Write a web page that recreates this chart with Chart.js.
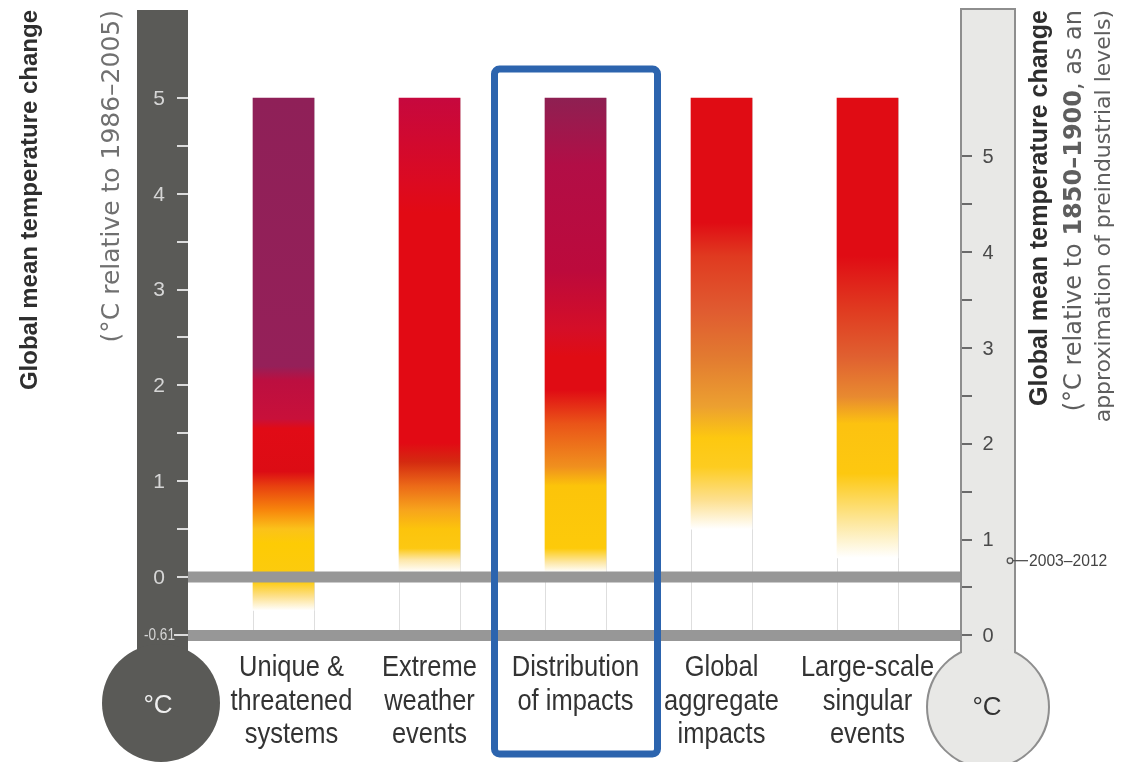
<!DOCTYPE html>
<html>
<head>
<meta charset="utf-8">
<script src="https://cdn.jsdelivr.net/npm/chart.js@4.4.1/dist/chart.umd.min.js"></script>
<style>
html,body{margin:0;padding:0;background:#ffffff;}
#wrap{width:1121px;height:762px;position:relative;}
</style>
</head>
<body>
<div id="wrap"><canvas id="c"></canvas></div>
<script>
// ---------------- data ----------------
const categories = [
  ["Unique &", "threatened", "systems"],
  ["Extreme", "weather", "events"],
  ["Distribution", "of impacts"],
  ["Global", "aggregate", "impacts"],
  ["Large-scale", "singular", "events"]
];
// temperature range covered by each bar (°C relative to 1986–2005)
const barTop = [5, 5, 5, 5, 5];
const barBottom = [-0.35, 0.05, 0.05, 0.5, 0.2];

// colour transitions along each bar: [temperature, colour]
const stopsUnique = [[5, "#8f2058"], [2.2, "#952059"], [2.05, "#bc0f40"], [1.65, "#c8103a"], [1.55, "#e10b16"], [1.1, "#dc0c14"], [0.95, "#e8400f"], [0.7, "#f7850c"], [0.5, "#fbc21a"], [0.35, "#fdcb05"], [-0.05, "#fccb10"], [-0.2, "#fde08a"], [-0.35, "#ffffff"]];
const stopsExtreme = [[5, "#c6083e"], [4.1, "#dc0a20"], [3.8, "#e20a14"], [1.4, "#e20a14"], [1.2, "#d42a10"], [0.95, "#ec6a18"], [0.7, "#f7a41c"], [0.5, "#fcc40c"], [0.3, "#fcc812"], [0.18, "#fde7a8"], [0.05, "#ffffff"]];
const stopsDistribution = [[5, "#8e2052"], [4.3, "#b20e46"], [3.2, "#bc0a3c"], [2.6, "#d40e28"], [2.3, "#e00c14"], [1.95, "#e00c14"], [1.6, "#ea5418"], [1.15, "#f0901e"], [0.95, "#fcc40a"], [0.3, "#fdca0a"], [0.15, "#fde8a8"], [0.05, "#ffffff"]];
const stopsAggregate = [[5, "#e00c14"], [3.7, "#e00c14"], [3.35, "#e03a20"], [2.8, "#e05a30"], [2.3, "#e27a30"], [1.78, "#eca030"], [1.45, "#fdc810"], [1.15, "#fdcc20"], [0.8, "#fde090"], [0.5, "#ffffff"]];
const stopsSingular = [[5, "#e00c14"], [3.35, "#e00c14"], [2.8, "#e03a20"], [2.3, "#e06030"], [1.88, "#e88a30"], [1.6, "#fcc210"], [1.08, "#fdc810"], [0.56, "#fde8a0"], [0.2, "#ffffff"]];
const colourStops = [stopsUnique, stopsExtreme, stopsDistribution, stopsAggregate, stopsSingular];

// axes
const leftMajorTicks = [0, 1, 2, 3, 4, 5];
const leftMinorTicks = [0.5, 1.5, 2.5, 3.5, 4.5];
const preindustrialOffset = -0.61;          // 1850–1900 level on the 1986–2005 scale
const rightMajorTicks = [0, 1, 2, 3, 4, 5];  // °C relative to 1850–1900
const rightMinorTicks = [0.5, 1.5, 2.5, 3.5, 4.5];
const observedWarming = 0.78;                // 2003–2012, relative to 1850–1900
const observedLabel = "2003–2012";
const highlightedCategory = 2;

const leftTitle = "Global mean temperature change";
const leftSubtitle = "(°C relative to 1986–2005)";
const rightTitle = "Global mean temperature change";
const rightSub1 = ["(°C relative to ", "1850–1900", ", as an"];
const rightSub2 = "approximation of preindustrial levels)";

// ---------------- drawing ----------------
function barGradient(context) {
  const chart = context.chart;
  if (!chart.chartArea) return "#e00c14";
  const i = context.dataIndex;
  const ys = chart.scales.y;
  const y0 = ys.getPixelForValue(barTop[i]);
  const y1 = ys.getPixelForValue(barBottom[i]);
  const g = chart.ctx.createLinearGradient(0, y0, 0, y1);
  const span = barTop[i] - barBottom[i];
  colourStops[i].forEach(([v, c]) => {
    const o = Math.max(0, Math.min(1, (barTop[i] - v) / span));
    g.addColorStop(o, c);
  });
  return g;
}

function vText(ctx, parts, x, yEnd, color) {
  // rotated text reading bottom-to-top, ending at yEnd
  ctx.save();
  ctx.translate(x, yEnd);
  ctx.rotate(-Math.PI / 2);
  ctx.textBaseline = "middle";
  ctx.textAlign = "left";
  ctx.fillStyle = color;
  let total = 0;
  parts.forEach(p => { ctx.font = p.font; total += ctx.measureText(p.text).width; });
  let cx = -total;
  parts.forEach(p => { ctx.font = p.font; ctx.fillText(p.text, cx, 0); cx += ctx.measureText(p.text).width; });
  ctx.restore();
}

function narrowText(ctx, text, x, y, sx) {
  ctx.save();
  ctx.translate(x, y);
  ctx.scale(sx, 1);
  ctx.fillText(text, 0, 0);
  ctx.restore();
}

const decor = {
  id: "decor",
  beforeDatasetsDraw(chart) {
    const ctx = chart.ctx, xs = chart.scales.x, ys = chart.scales.y;
    ctx.save();
    ctx.strokeStyle = "rgba(0,0,0,0.13)";
    ctx.lineWidth = 1;
    const yA = ys.getPixelForValue(preindustrialOffset), yB = ys.getPixelForValue(5);
    categories.forEach((c, i) => {
      const xc = xs.getPixelForValue(i);
      [-30.5, 30.5].forEach(d => {
        ctx.beginPath(); ctx.moveTo(Math.round(xc + d) + 0.5, yA); ctx.lineTo(Math.round(xc + d) + 0.5, yB); ctx.stroke();
      });
    });
    ctx.restore();
  },
  afterDatasetsDraw(chart) {
    const ctx = chart.ctx, xs = chart.scales.x, ys = chart.scales.y;
    ctx.save();
    // horizontal bands at 0 and at the preindustrial level
    ctx.strokeStyle = "#979797";
    ctx.lineWidth = 11;
    [0, preindustrialOffset].forEach(v => {
      const y = ys.getPixelForValue(v);
      ctx.beginPath(); ctx.moveTo(188, y); ctx.lineTo(963, y); ctx.stroke();
    });

    // left thermometer
    ctx.fillStyle = "#5a5a57";
    ctx.fillRect(137, 10, 51, 700);
    ctx.beginPath(); ctx.arc(161, 703, 59, 0, Math.PI * 2); ctx.fill();
    ctx.strokeStyle = "#dcdcdc";
    ctx.lineWidth = 2;
    leftMajorTicks.concat(leftMinorTicks).forEach(v => {
      const y = Math.round(ys.getPixelForValue(v));
      ctx.beginPath(); ctx.moveTo(177, y); ctx.lineTo(188, y); ctx.stroke();
    });
    const yp = Math.round(ys.getPixelForValue(preindustrialOffset));
    ctx.beginPath(); ctx.moveTo(174, yp); ctx.lineTo(188, yp); ctx.stroke();
    ctx.fillStyle = "#d6d6d6";
    ctx.font = "21px 'Liberation Sans', sans-serif";
    ctx.textAlign = "center"; ctx.textBaseline = "middle";
    leftMajorTicks.forEach(v => ctx.fillText(String(v), 159, ys.getPixelForValue(v) + 1));
    ctx.font = "16px 'Liberation Sans', sans-serif";
    ctx.textAlign = "right";
    narrowText(ctx, String(preindustrialOffset), 175, yp + 1, 0.85);
    ctx.fillStyle = "#efefef";
    ctx.font = "26px 'Liberation Sans', sans-serif";
    ctx.textAlign = "center";
    ctx.fillText("°C", 158, 706);

    // right thermometer
    ctx.strokeStyle = "#8e8e8e";
    ctx.lineWidth = 4;
    ctx.strokeRect(962, 10, 52, 700);
    ctx.beginPath(); ctx.arc(988, 707, 60, 0, Math.PI * 2); ctx.stroke();
    ctx.fillStyle = "#e8e8e6";
    ctx.fillRect(962, 10, 52, 700);
    ctx.beginPath(); ctx.arc(988, 707, 60, 0, Math.PI * 2); ctx.fill();
    ctx.strokeStyle = "#6a6a6a";
    ctx.lineWidth = 2;
    rightMajorTicks.concat(rightMinorTicks).forEach(v => {
      const y = Math.round(ys.getPixelForValue(v + preindustrialOffset));
      ctx.beginPath(); ctx.moveTo(962, y); ctx.lineTo(972, y); ctx.stroke();
    });
    ctx.fillStyle = "#4a4a4a";
    ctx.font = "20px 'Liberation Sans', sans-serif";
    ctx.textAlign = "center";
    rightMajorTicks.forEach(v => ctx.fillText(String(v), 988, ys.getPixelForValue(v + preindustrialOffset) + 1));
    ctx.fillStyle = "#333";
    ctx.font = "26px 'Liberation Sans', sans-serif";
    ctx.fillText("°C", 987, 708);

    // observed warming marker
    const yo = ys.getPixelForValue(observedWarming + preindustrialOffset);
    ctx.strokeStyle = "#555"; ctx.lineWidth = 1.3;
    ctx.beginPath(); ctx.moveTo(1011, yo); ctx.lineTo(1028, yo); ctx.stroke();
    ctx.fillStyle = "#e8e8e6";
    ctx.beginPath(); ctx.arc(1010, yo, 2.8, 0, Math.PI * 2); ctx.fill(); ctx.stroke();
    ctx.fillStyle = "#444";
    ctx.font = "17px 'Liberation Sans', sans-serif";
    ctx.textAlign = "left";
    narrowText(ctx, observedLabel, 1029, yo + 1, 0.92);

    // category labels
    ctx.fillStyle = "#333333";
    ctx.font = "30px 'Liberation Sans', sans-serif";
    ctx.textAlign = "center";
    categories.forEach((lines, i) => {
      const xc = xs.getPixelForValue(i);
      lines.forEach((t, k) => narrowText(ctx, t, xc + (i === 0 ? 8 : 0), 668 + k * 33.5, 0.85));
    });

    // axis titles
    vText(ctx, [{ text: leftTitle, font: "bold 24px 'Liberation Sans', sans-serif" }], 30, 10, "#2e2e2e");
    vText(ctx, [{ text: leftSubtitle, font: "25px 'DejaVu Sans', sans-serif" }], 112, 10, "#707070");
    vText(ctx, [{ text: rightTitle, font: "bold 25px 'Liberation Sans', sans-serif" }], 1040, 10, "#2e2e2e");
    vText(ctx, [
      { text: rightSub1[0], font: "24px 'DejaVu Sans', sans-serif" },
      { text: rightSub1[1], font: "bold 24px 'DejaVu Sans', sans-serif" },
      { text: rightSub1[2], font: "24px 'DejaVu Sans', sans-serif" }
    ], 1075, 10, "#5e5e5e");
    vText(ctx, [{ text: rightSub2, font: "22px 'DejaVu Sans', sans-serif" }], 1104, 10, "#5e5e5e");

    // highlight box around one category
    const xh = xs.getPixelForValue(highlightedCategory);
    ctx.strokeStyle = "#2c64ae";
    ctx.lineWidth = 7;
    ctx.beginPath();
    ctx.roundRect(xh - 81, 69, 163, 685, 5);
    ctx.stroke();
    ctx.restore();
  }
};

new Chart(document.getElementById("c"), {
  type: "bar",
  data: {
    labels: categories.map(c => c.join(" ")),
    datasets: [{
      data: barTop.map((t, i) => [barBottom[i], t]),
      backgroundColor: barGradient,
      borderWidth: 0,
      barThickness: 61
    }]
  },
  options: {
    responsive: true,
    maintainAspectRatio: false,
    animation: false,
    devicePixelRatio: 1,
    layout: { padding: { left: 210.5, right: 180.5, top: 30.9, bottom: 126.6 } },
    plugins: { legend: { display: false }, tooltip: { enabled: false } },
    scales: {
      x: { type: "category", display: false, offset: true },
      y: { type: "linear", display: false, min: preindustrialOffset, max: 5.7 }
    }
  },
  plugins: [decor]
});
</script>
</body>
</html>
